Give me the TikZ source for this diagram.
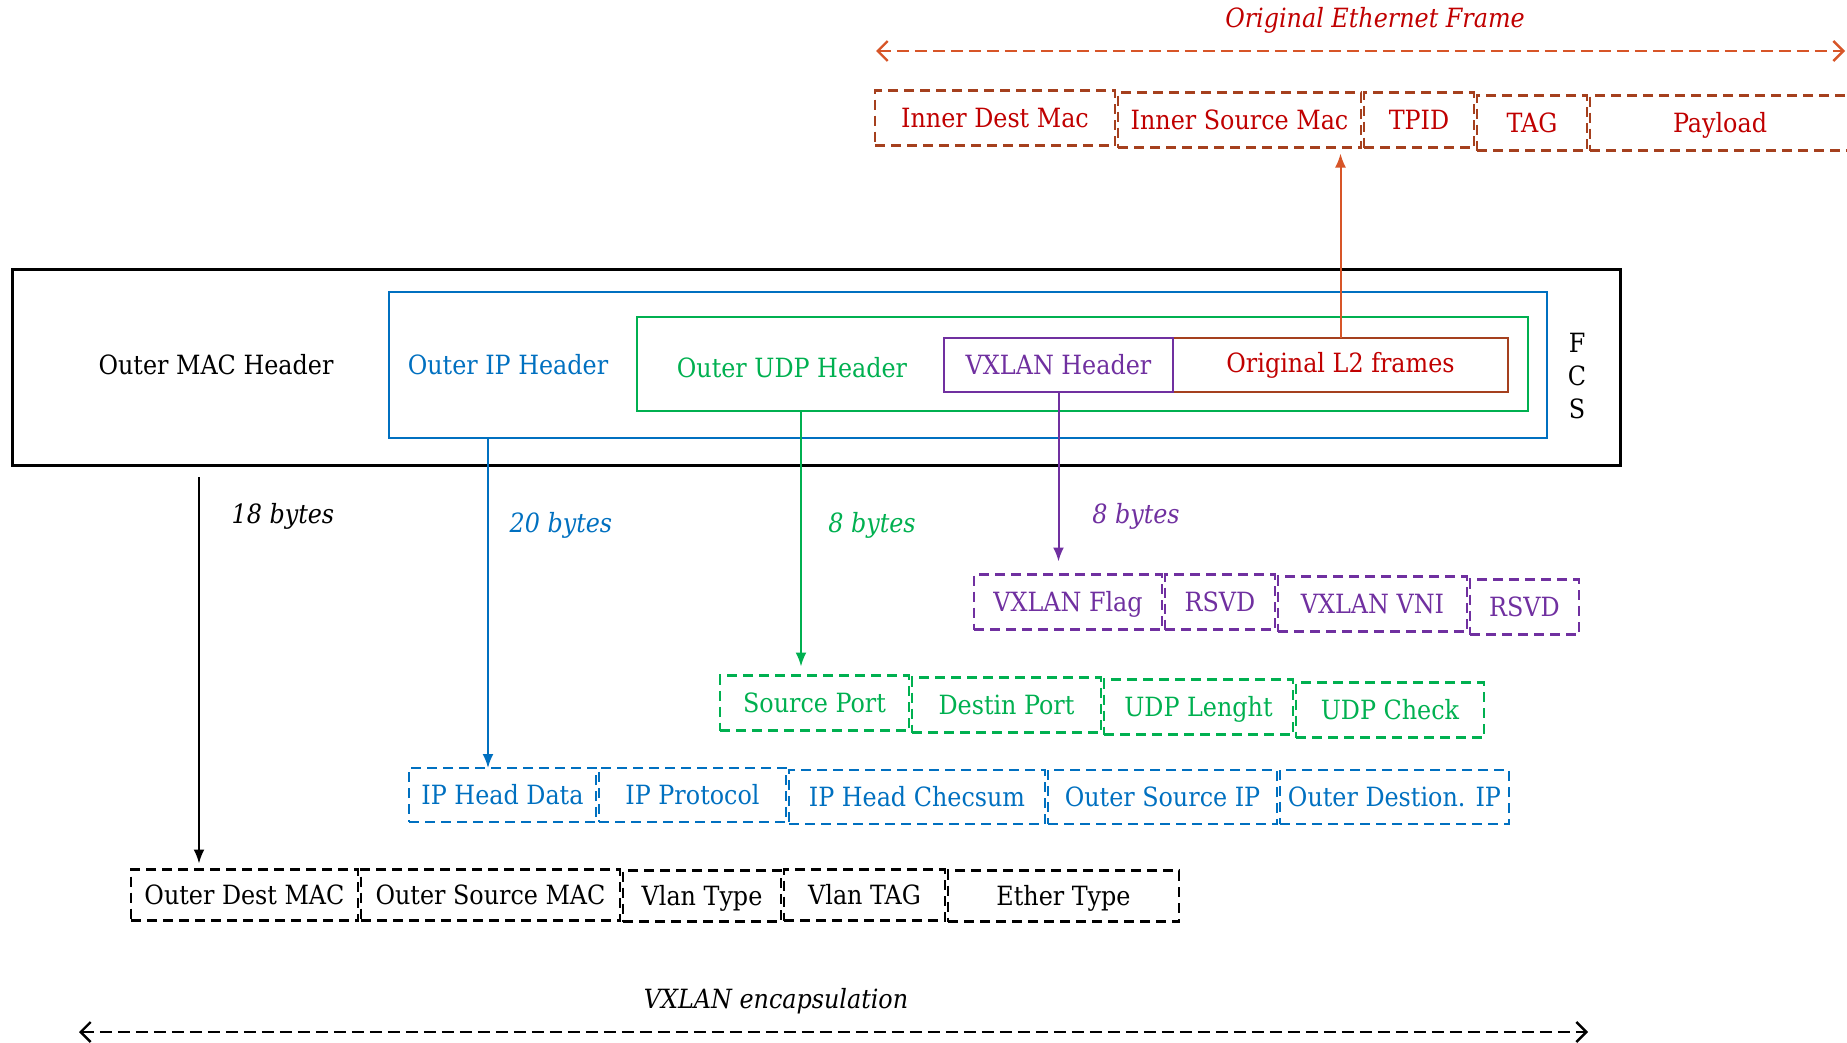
\documentclass[tikz,border=0pt]{standalone}
\usepackage{fontspec}
\setmainfont{DejaVu Serif Condensed}
\usetikzlibrary{positioning,arrows.meta,calc}
\definecolor{redt}{RGB}{192,0,0}
\definecolor{brn}{RGB}{165,64,30}
\definecolor{orng}{RGB}{215,85,40}
\definecolor{ipc}{RGB}{0,112,192}
\definecolor{udc}{RGB}{0,176,80}
\definecolor{vxc}{RGB}{112,48,160}

\begin{document}
\begin{tikzpicture}[
  x=1pt, y=-1pt,
  font=\fontsize{26.5}{31}\selectfont,
  hdr/.style={draw, line width=2.5pt, inner sep=0pt, outer sep=0pt},
  fld/.style={draw, dash pattern=on 10pt off 6pt, line width=2.4pt,
              minimum height=55pt, inner sep=0pt, outer sep=0pt,
              text height=22pt, text depth=3pt},
  frm/.style={fld, draw=brn, text=redt},
  vxf/.style={fld, draw=vxc, text=vxc},
  udf/.style={fld, draw=udc, text=udc},
  ipf/.style={fld, draw=ipc, text=ipc},
  macf/.style={fld, draw=black},
  arr/.style={line width=2pt, -{Latex[length=14pt,width=11pt]}},
  span/.style={line width=2.4pt, dash pattern=on 12pt off 6pt,
               {Straight Barb[length=10pt,width=20pt]}-{Straight Barb[length=10pt,width=20pt]}},
  lbl/.style={font=\fontsize{26.5}{31}\selectfont\itshape},
]
  \useasboundingbox (0,0) rectangle (1847,1042);

  % VXLAN packet: nested headers
  \node[hdr, line width=3pt, minimum width=1608pt, minimum height=196pt] (outer) at (816,367) {};
  \node (mac) at (216,365) {Outer MAC Header};
  \node[hdr, draw=ipc, minimum width=1158pt, minimum height=146pt] (ipbox) at (968,365) {};
  \node[text=ipc] (iph) at (508,365) {Outer IP Header};
  \node[hdr, draw=udc, minimum width=891pt, minimum height=94pt] (udpbox) at (1082.5,364) {};
  \node[text=udc] (udph) at (792,368) {Outer UDP Header};
  \node[hdr, draw=brn, text=redt, minimum width=335pt, minimum height=54pt] (l2) at (1340.5,365) {Original L2 frames};
  \node[hdr, draw=vxc, text=vxc, minimum width=229pt, minimum height=54pt, left=0pt of l2] (vxh) {VXLAN Header};
  \node[align=center, font=\fontsize{26.5}{33}\selectfont] (fcs) at (1577,376) {F\\C\\S};

  % original ethernet frame
  \node[frm, minimum width=240pt] (t1) at (995,118) {Inner Dest Mac};
  \node[frm, minimum width=243pt, right=3pt of t1, yshift=-2pt] (t2) {Inner Source Mac};
  \node[frm, minimum width=110pt, right=3pt of t2] (t3) {TPID};
  \node[frm, minimum width=110pt, right=3pt of t3, yshift=-3pt] (t4) {TAG};
  \node[frm, minimum width=260pt, right=3pt of t4] (t5) {Payload};
  \coordinate (ofl) at (876,51);
  \coordinate (ofr) at (1845,51);
  \draw[span, orng] (ofl) -- (ofr);
  \node[lbl, text=redt] (oef) at (1375,20) {Original Ethernet Frame};
  \draw[arr, orng] (l2.north) -- ($(l2.north |- t2.south)+(0,6)$);

  % VXLAN header fields
  \node[vxf, minimum width=188pt] (v1) at (1068,602) {VXLAN Flag};
  \node[vxf, minimum width=110pt, right=3pt of v1] (v2) {RSVD};
  \node[vxf, minimum width=189pt, right=3pt of v2, yshift=-2pt] (v3) {VXLAN VNI};
  \node[vxf, minimum width=109pt, right=3pt of v3, yshift=-3pt] (v4) {RSVD};
  \draw[arr, vxc] (vxh.south) -- ($(vxh.south |- v1.north)+(0,-13)$);
  \node[lbl, text=vxc] (vxb) at (1136,516) {8 bytes};

  % UDP header fields
  \node[udf, minimum width=189pt] (u1) at (814.5,703) {Source Port};
  \node[udf, minimum width=189pt, right=3pt of u1, yshift=-2pt] (u2) {Destin Port};
  \node[udf, minimum width=189pt, right=3pt of u2, yshift=-2pt] (u3) {UDP Lenght};
  \node[udf, minimum width=188pt, right=3pt of u3, yshift=-3pt] (u4) {UDP Check};
  \draw[arr, udc] ($(udpbox.south -| u1.north)+(-13.5,0)$) -- ($(u1.north)+(-13.5,-9)$);
  \node[lbl, text=udc] (udb) at (872,525) {8 bytes};

  % IP header fields
  \node[ipf, minimum width=187pt, minimum height=54pt] (i1) at (502.5,795) {IP Head Data};
  \node[ipf, minimum width=187pt, minimum height=54pt, right=3pt of i1] (i2) {IP Protocol};
  \node[ipf, minimum width=256pt, minimum height=54pt, right=3pt of i2, yshift=-2pt] (i3) {IP Head Checsum};
  \node[ipf, minimum width=229pt, minimum height=54pt, right=3pt of i3] (i4) {Outer Source IP};
  \node[ipf, minimum width=229pt, minimum height=54pt, right=3pt of i4] (i5) {Outer Destion. IP};
  \draw[arr, ipc] ($(ipbox.south -| i1.north)+(-14.5,0)$) -- ($(i1.north)+(-14.5,0)$);
  \node[lbl, text=ipc] (ipb) at (561,525) {20 bytes};

  % MAC header fields
  \node[macf, minimum width=227pt, minimum height=51pt] (m1) at (244.5,895) {Outer Dest MAC};
  \node[macf, minimum width=259pt, minimum height=51pt, right=3pt of m1] (m2) {Outer Source MAC};
  \node[macf, minimum width=158pt, minimum height=51pt, right=3pt of m2, yshift=-1pt] (m3) {Vlan Type};
  \node[macf, minimum width=161pt, minimum height=51pt, right=3pt of m3, yshift=1pt] (m4) {Vlan TAG};
  \node[macf, minimum width=231pt, minimum height=51pt, right=3pt of m4, yshift=-1pt] (m5) {Ether Type};
  \coordinate (m0) at (199,477);
  \draw[arr] (m0) -- ($(m0 |- m1.north)+(0,-6)$);
  \node[lbl] (macb) at (283,516) {18 bytes};

  % whole encapsulation
  \coordinate (el) at (79,1032);
  \coordinate (er) at (1588,1032);
  \draw[span] (el) -- (er);
  \node[lbl] (enc) at (776,1001) {VXLAN encapsulation};
\end{tikzpicture}
\end{document}
